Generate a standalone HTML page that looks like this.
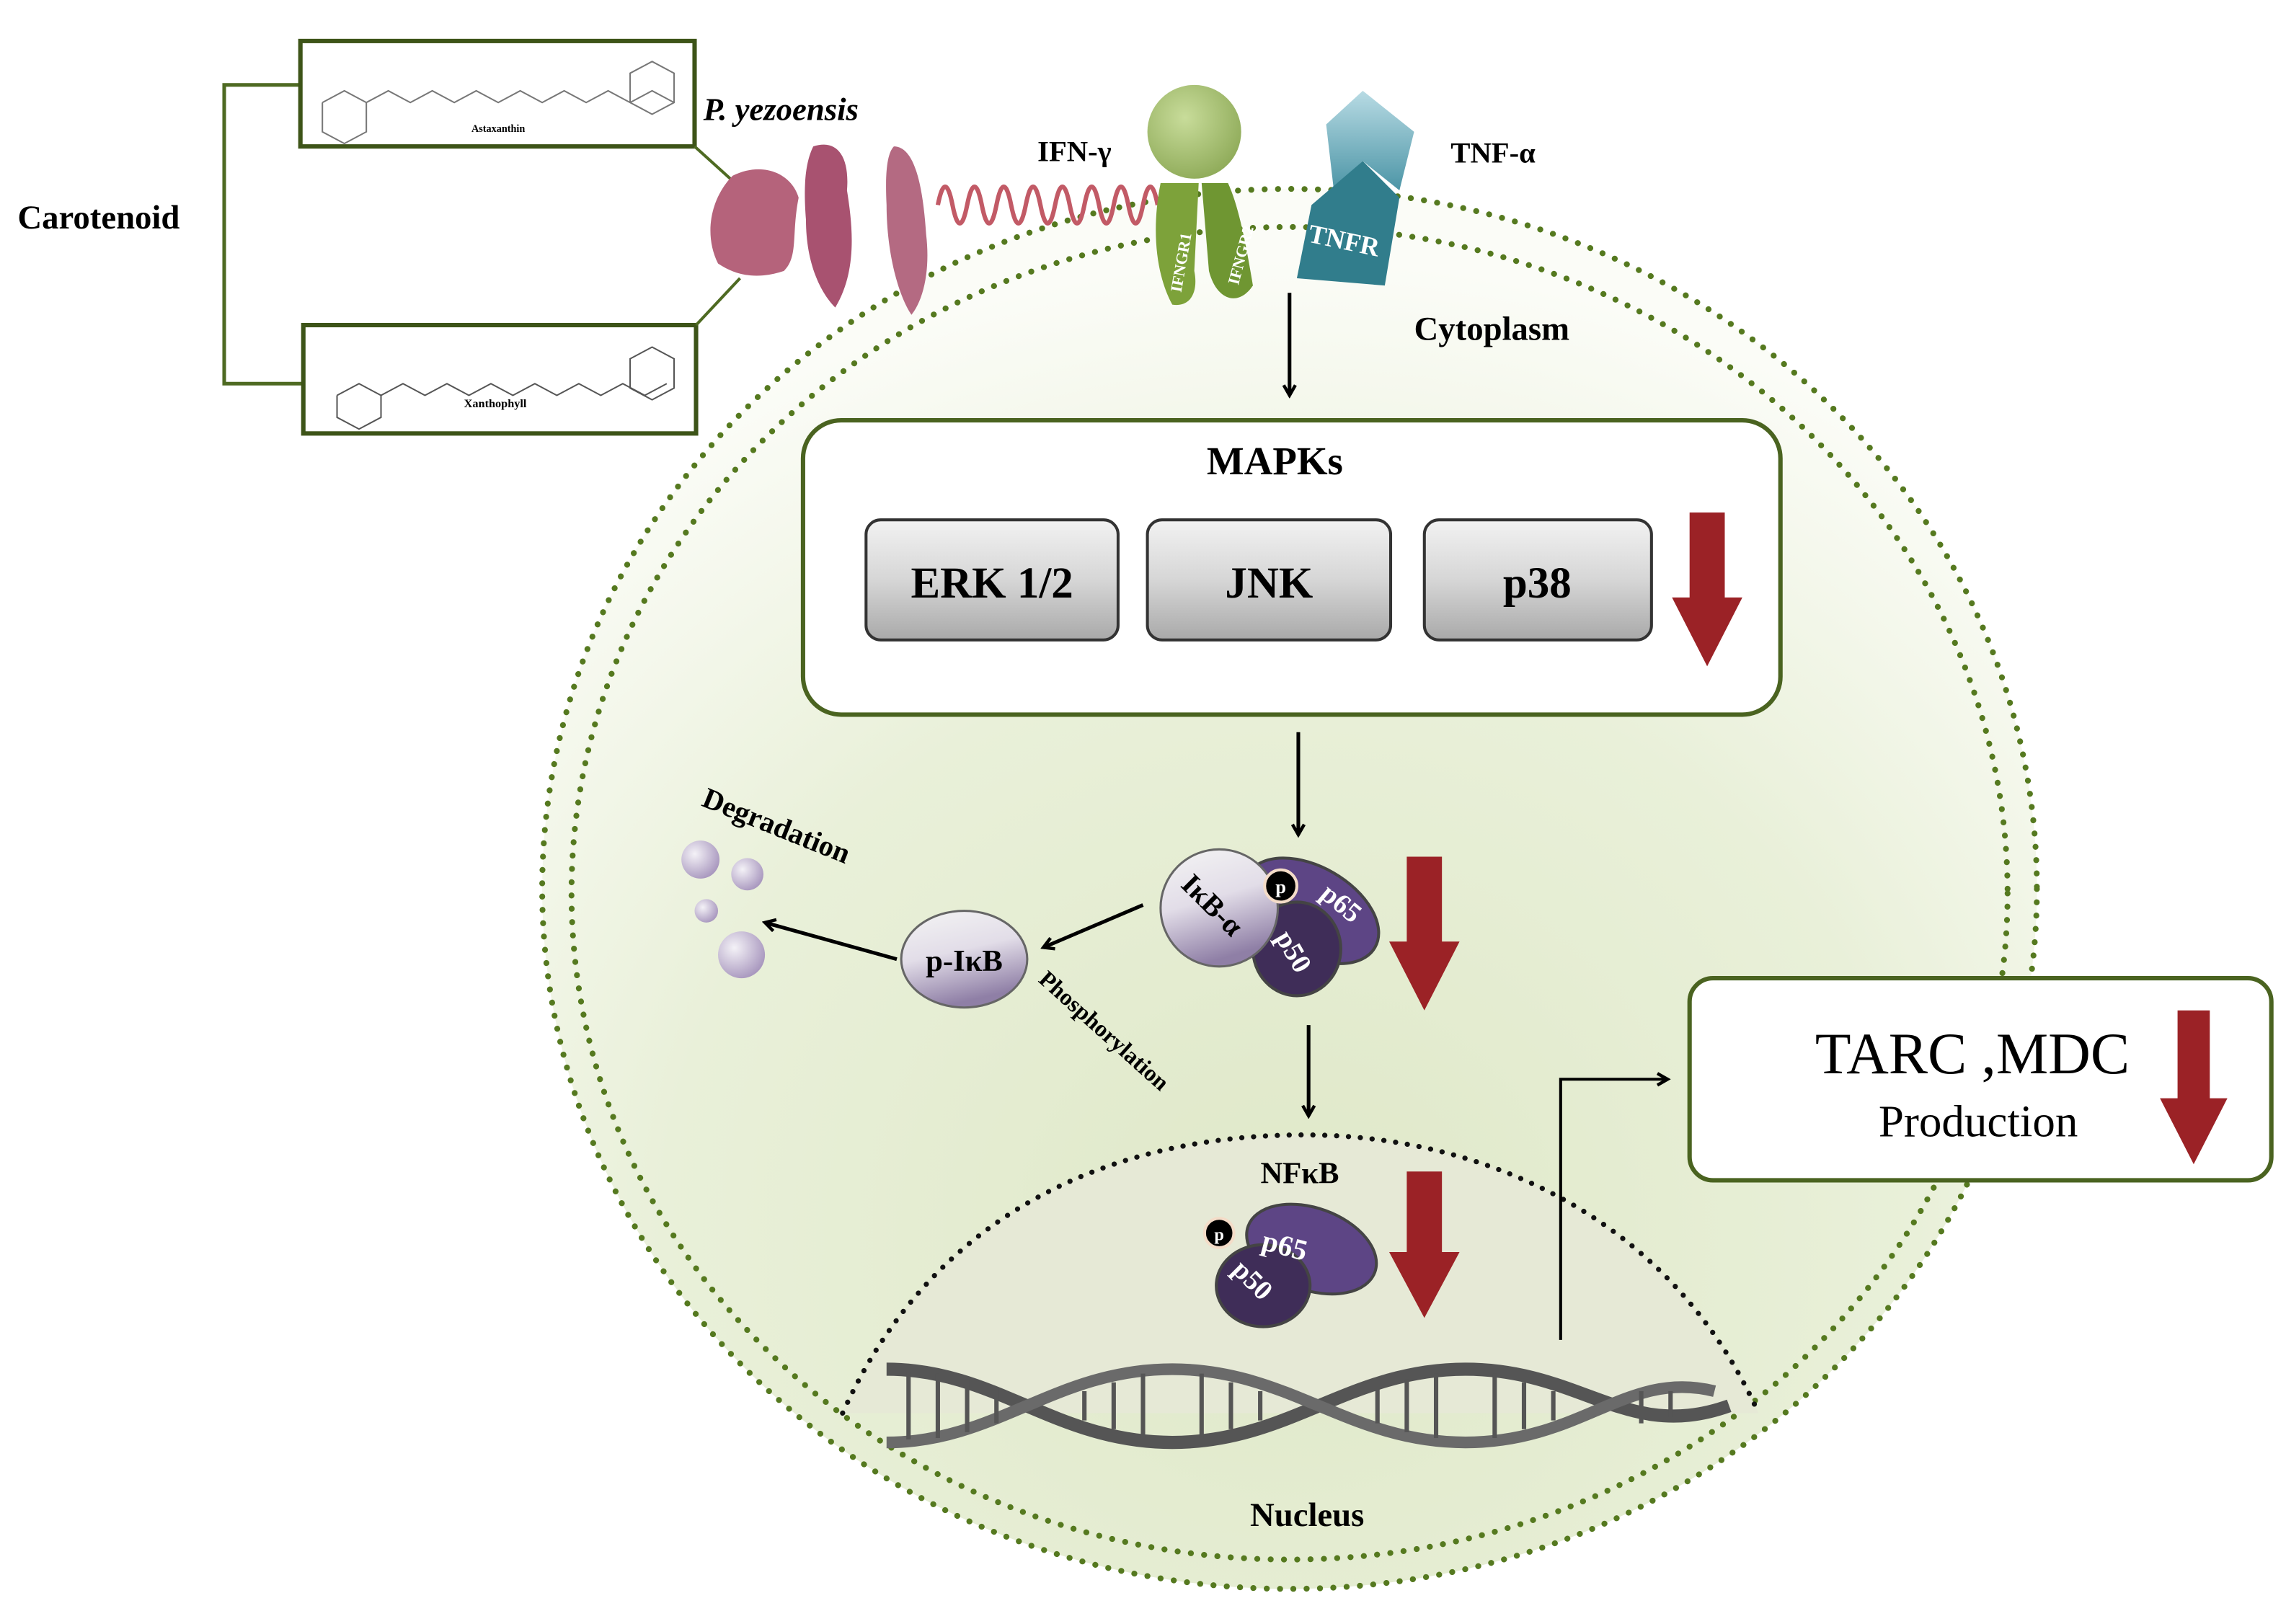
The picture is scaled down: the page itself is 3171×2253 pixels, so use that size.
<!DOCTYPE html>
<html><head><meta charset="utf-8"><style>
html,body{margin:0;padding:0;background:#fff}
svg{display:block}
text{font-family:"Liberation Serif",serif;font-weight:bold}
</style></head><body>
<svg width="3171" height="2253" viewBox="0 0 1560 1109" preserveAspectRatio="none" xmlns="http://www.w3.org/2000/svg">
<defs>
<radialGradient id="cell" cx="0.5" cy="0.75" r="0.7">
<stop offset="0" stop-color="#dfe8c8"/><stop offset="0.6" stop-color="#e9f0d9"/><stop offset="1" stop-color="#fbfcf7"/></radialGradient>
<linearGradient id="gbox" x1="0" y1="0" x2="0" y2="1">
<stop offset="0" stop-color="#f2f2f2"/><stop offset="0.5" stop-color="#d6d6d6"/><stop offset="1" stop-color="#a9a9a9"/></linearGradient>
<linearGradient id="ikb" x1="0" y1="0" x2="0.3" y2="1">
<stop offset="0" stop-color="#f4f4f4"/><stop offset="0.5" stop-color="#e2dde8"/><stop offset="1" stop-color="#8f7fa6"/></linearGradient>
<radialGradient id="ball" cx="0.4" cy="0.35" r="0.7"><stop offset="0" stop-color="#c8dc9a"/><stop offset="1" stop-color="#8eaa58"/></radialGradient>
<linearGradient id="tn" x1="0" y1="0" x2="0" y2="1"><stop offset="0" stop-color="#b8dbe4"/><stop offset="1" stop-color="#4c95a6"/></linearGradient>
<radialGradient id="bub" cx="0.35" cy="0.35" r="0.7"><stop offset="0" stop-color="#f4f2f7"/><stop offset="1" stop-color="#a897be"/></radialGradient>
<marker id="ar" markerWidth="10" markerHeight="10" refX="8" refY="5" orient="auto" markerUnits="userSpaceOnUse"><path d="M1,1 L8,5 L1,9" fill="none" stroke="#000" stroke-width="2.2"/></marker>
</defs>
<ellipse cx="880" cy="607" rx="510" ry="478" fill="url(#cell)"/>
<ellipse cx="880" cy="607" rx="510" ry="478" fill="none" stroke="#55791f" stroke-width="4" stroke-dasharray="0.1 9" stroke-linecap="round"/>
<ellipse cx="880" cy="610" rx="490" ry="455" fill="none" stroke="#55791f" stroke-width="4" stroke-dasharray="0.1 9" stroke-linecap="round"/>
<polygon points="800,1090 920,1090 860,1112" fill="#fff"/>
<path d="M575,965 C640,820 770,775 890,775 C1010,775 1140,830 1200,965 Z" fill="#e6e9d6"/>
<path d="M575,965 C640,820 770,775 890,775 C1010,775 1140,830 1200,965" fill="none" stroke="#111" stroke-width="3.5" stroke-dasharray="0.1 8" stroke-linecap="round"/>
<text x="12" y="156" font-size="23">Carotenoid</text>
<path d="M205,58 H153 V262 H207" fill="none" stroke="#4e6a22" stroke-width="2.5"/>
<rect x="205" y="28" width="269" height="72" fill="#fff" stroke="#3d5418" stroke-width="3"/>
<rect x="207" y="222" width="268" height="74" fill="#fff" stroke="#3d5418" stroke-width="3"/>
<path d="M220,70 l15,-8 l15,8 l15,-8 l15,8 l15,-8 l15,8 l15,-8 l15,8 l15,-8 l15,8 l15,-8 l15,8 l15,-8 l15,8 l15,-8 l15,8 M220,70 v20 l15,8 l15,-8 v-20 M430,50 l15,-8 l15,8 v20 l-15,8 l-15,-8 z" fill="none" stroke="#777" stroke-width="1"/>
<text x="340" y="90" font-size="7" text-anchor="middle">Astaxanthin</text>
<path d="M230,270 l15,-8 l15,8 l15,-8 l15,8 l15,-8 l15,8 l15,-8 l15,8 l15,-8 l15,8 l15,-8 l15,8 l15,-8 l15,8 l15,-8 M230,270 v15 l15,8 l15,-8 v-15 M430,245 l15,-8 l15,8 v20 l-15,8 l-15,-8 z" fill="none" stroke="#555" stroke-width="1"/>
<text x="338" y="278" font-size="8" text-anchor="middle">Xanthophyll</text>
<path d="M474,100 L505,128 M475,222 L505,190" stroke="#4e6a22" stroke-width="2"/>
<text x="480" y="82" font-size="22" font-style="italic">P. yezoensis</text>
<path d="M500,120 C520,110 540,118 545,135 C540,160 545,175 535,185 C520,190 505,190 490,180 C480,160 485,135 500,120Z" fill="#b5637b"/>
<path d="M555,100 C570,95 580,105 578,130 C582,155 585,185 570,210 C560,200 550,180 550,150 C548,125 550,110 555,100Z" fill="#a85270"/>
<path d="M610,100 C625,100 630,130 632,160 C635,185 630,205 622,215 C612,200 605,170 605,140 C604,120 605,105 610,100Z" fill="#b46a82"/>
<path d="M640,140 q5,-25 10,0 t10,0 t10,0 t10,0 t10,0 t10,0 t10,0 t10,0 t10,0 t10,0 t10,0 t10,0 t10,0 t10,0 t10,0" fill="none" stroke="#c25a66" stroke-width="3"/>
<text x="708" y="110" font-size="20">IFN-γ</text>
<path d="M792,125 C785,160 790,190 800,208 C812,210 818,200 815,185 L818,125 Z" fill="#7da23a"/>
<path d="M820,125 L825,185 C830,205 845,210 855,195 C850,165 845,140 838,125 Z" fill="#6f9632"/>
<circle cx="815" cy="90" r="32" fill="url(#ball)"/>
<text transform="translate(806,200) rotate(-80)" font-size="11" fill="#fff">IFNGR1</text>
<text transform="translate(845,195) rotate(-75)" font-size="11" fill="#fff">IFNGR2</text>
<path d="M905,85 L930,62 L965,90 L955,130 L930,110 L910,128 Z" fill="url(#tn)"/>
<path d="M885,190 L895,140 L930,110 L955,135 L945,195 Z" fill="#317d8c"/>
<text transform="translate(892,165) rotate(12)" font-size="18" fill="#fff">TNFR</text>
<text x="990" y="111" font-size="20">TNF-α</text>
<text x="965" y="232" font-size="23">Cytoplasm</text>
<g stroke="#000" stroke-width="2.5" marker-end="url(#ar)" fill="none">
<line x1="880" y1="200" x2="880" y2="270"/>
<line x1="886" y1="500" x2="886" y2="570"/>
<line x1="893" y1="700" x2="893" y2="762"/>
<line x1="780" y1="618" x2="712" y2="647"/>
<line x1="612" y1="655" x2="522" y2="630"/>
<polyline points="1065,915 1065,737 1138,737" stroke-width="2"/>
</g>
<rect x="548" y="287" width="667" height="201" rx="26" fill="#fff" stroke="#4a6320" stroke-width="3"/>
<text x="870" y="324" font-size="27" text-anchor="middle">MAPKs</text>
<g stroke="#333" stroke-width="2">
<rect x="591" y="355" width="172" height="82" rx="10" fill="url(#gbox)"/>
<rect x="783" y="355" width="166" height="82" rx="10" fill="url(#gbox)"/>
<rect x="972" y="355" width="155" height="82" rx="10" fill="url(#gbox)"/>
</g>
<g font-size="30" text-anchor="middle">
<text x="677" y="408">ERK 1/2</text><text x="866" y="408">JNK</text><text x="1049" y="408">p38</text></g>
<ellipse cx="895" cy="622" rx="50" ry="30" transform="rotate(30 895 622)" fill="#5d4585" stroke="#444" stroke-width="2"/>
<ellipse cx="885" cy="648" rx="30" ry="32" fill="#3f2d58" stroke="#444" stroke-width="2"/>
<circle cx="832" cy="620" r="40" fill="url(#ikb)" stroke="#666" stroke-width="1.5"/>
<circle cx="874" cy="605" r="11" fill="#000" stroke="#f4dcc8" stroke-width="2"/>
<text x="874" y="610" font-size="13" fill="#fff" text-anchor="middle">p</text>
<text transform="translate(805,605) rotate(45)" font-size="20">IκB-α</text>
<text transform="translate(900,612) rotate(40)" font-size="19" fill="#fff">p65</text>
<text transform="translate(870,640) rotate(60)" font-size="19" fill="#fff">p50</text>
<ellipse cx="658" cy="655" rx="43" ry="33" fill="url(#ikb)" stroke="#666" stroke-width="1.5"/>
<text x="658" y="663" font-size="21" text-anchor="middle">p-IκB</text>
<text transform="translate(478,550) rotate(22)" font-size="20">Degradation</text>
<text transform="translate(708,670) rotate(42)" font-size="16">Phosphorylation</text>
<g fill="url(#bub)">
<circle cx="478" cy="587" r="13"/><circle cx="510" cy="597" r="11"/><circle cx="482" cy="622" r="8"/><circle cx="506" cy="652" r="16"/></g>
<text x="887" y="808" font-size="21" text-anchor="middle">NFκB</text>
<ellipse cx="895" cy="853" rx="46" ry="28" transform="rotate(20 895 853)" fill="#5d4585" stroke="#444" stroke-width="2"/>
<ellipse cx="862" cy="878" rx="32" ry="28" fill="#3f2d58" stroke="#444" stroke-width="2"/>
<circle cx="832" cy="842" r="10" fill="#000" stroke="#f4dcc8" stroke-width="2"/>
<text x="832" y="847" font-size="12" fill="#fff" text-anchor="middle">p</text>
<text transform="translate(860,853) rotate(15)" font-size="20" fill="#fff">p65</text>
<text transform="translate(840,868) rotate(45)" font-size="19" fill="#fff">p50</text>
<path d="M605,935 C680,935 720,985 800,985 C880,985 920,935 1000,935 C1080,935 1110,985 1180,960" fill="none" stroke="#555" stroke-width="9"/>
<path d="M605,985 C680,985 720,935 800,935 C880,935 920,985 1000,985 C1080,985 1110,935 1170,950" fill="none" stroke="#6a6a6a" stroke-width="8"/>
<g stroke="#555" stroke-width="3">
<line x1="620" y1="937" x2="620" y2="983"/><line x1="640" y1="938" x2="640" y2="982"/><line x1="660" y1="942" x2="660" y2="978"/><line x1="680" y1="948" x2="680" y2="972"/>
<line x1="740" y1="950" x2="740" y2="970"/><line x1="760" y1="944" x2="760" y2="976"/><line x1="780" y1="938" x2="780" y2="982"/><line x1="820" y1="938" x2="820" y2="982"/><line x1="840" y1="944" x2="840" y2="976"/><line x1="860" y1="950" x2="860" y2="970"/>
<line x1="940" y1="948" x2="940" y2="972"/><line x1="960" y1="942" x2="960" y2="978"/><line x1="980" y1="938" x2="980" y2="982"/><line x1="1020" y1="938" x2="1020" y2="982"/><line x1="1040" y1="944" x2="1040" y2="976"/><line x1="1060" y1="950" x2="1060" y2="970"/>
<line x1="1120" y1="950" x2="1120" y2="972"/><line x1="1140" y1="950" x2="1140" y2="968"/></g>
<text x="892" y="1042" font-size="23" text-anchor="middle">Nucleus</text>
<rect x="1153" y="668" width="397" height="138" rx="16" fill="#fff" stroke="#4a6320" stroke-width="3"/>
<text x="1346" y="733" font-size="40" text-anchor="middle" style="font-weight:normal">TARC ,MDC</text>
<text x="1350" y="776" font-size="31" text-anchor="middle" style="font-weight:normal">Production</text>
<g fill="#9b2226">
<path d="M1153,350 h24 v58 h12 l-24,47 l-24,-47 h12 z"/>
<path d="M960,585 h24 v58 h12 l-24,47 l-24,-47 h12 z"/>
<path d="M960,800 h24 v55 h12 l-24,45 l-24,-45 h12 z"/>
<path d="M1486,690 h22 v60 h12 l-23,45 l-23,-45 h12 z"/>
</g>
</svg>
</body></html>
